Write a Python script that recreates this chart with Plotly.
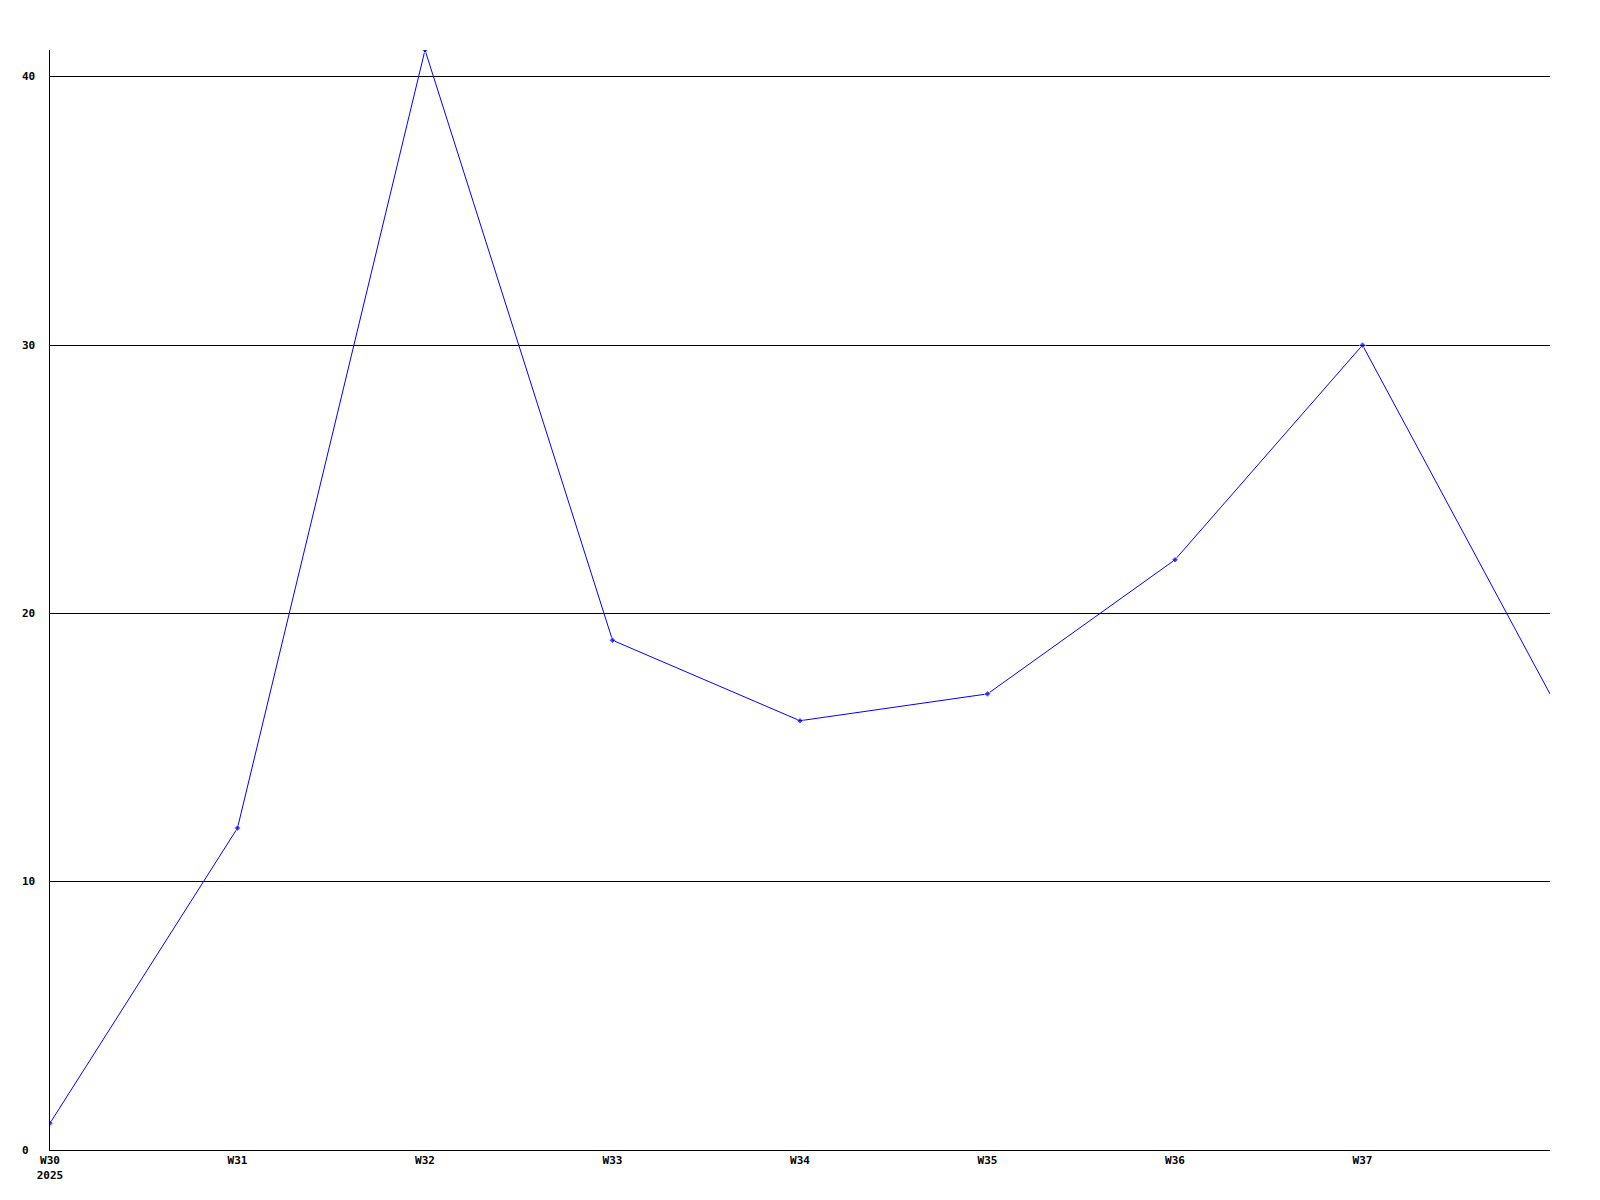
import plotly.graph_objects as go

weeks = [30, 31, 32, 33, 34, 35, 36, 37, 38]
values = [1, 12, 41, 19, 16, 17, 22, 30, 17]
x_tick_vals = [30, 31, 32, 33, 34, 35, 36, 37]
x_tick_text = ["W30<br>2025", "W31", "W32", "W33", "W34", "W35", "W36", "W37"]
y_tick_vals = [0, 10, 20, 30, 40]

FONT = dict(family="DejaVu Sans Mono", size=11, color="black")

fig = go.Figure()
fig.add_trace(go.Scatter(
    x=weeks, y=values, mode="lines+markers",
    line=dict(color="#0000ff", width=1),
    marker=dict(symbol="diamond", size=[5] * (len(weeks) - 1) + [0], color="#0000ff"),
    showlegend=False, cliponaxis=True,
))

annotations = [
    dict(x=-0.02, xref="paper", xanchor="left", y=v, yref="y", yanchor="middle",
         text=f"<b>{v}</b>", showarrow=False, font=FONT)
    for v in y_tick_vals
]

fig.update_layout(
    width=1600, height=1200,
    margin=dict(l=42, r=58, t=42, b=58),
    paper_bgcolor="white", plot_bgcolor="white",
    font=FONT,
    annotations=annotations,
    xaxis=dict(
        range=[30, 38], tickvals=x_tick_vals,
        ticktext=[f"<b>{t}</b>".replace("<br>", "</b><br><b>") for t in x_tick_text],
        showgrid=False, zeroline=False,
        showline=True, linecolor="black", linewidth=1,
        ticks="", ticklabelstandoff=0,
        tickfont=FONT,
    ),
    yaxis=dict(
        range=[0, 41], tickvals=y_tick_vals, showticklabels=False,
        showgrid=True, gridcolor="black", gridwidth=1,
        zeroline=False,
        showline=True, linecolor="black", linewidth=1,
        ticks="",
    ),
)

fig.write_html("out.html")
